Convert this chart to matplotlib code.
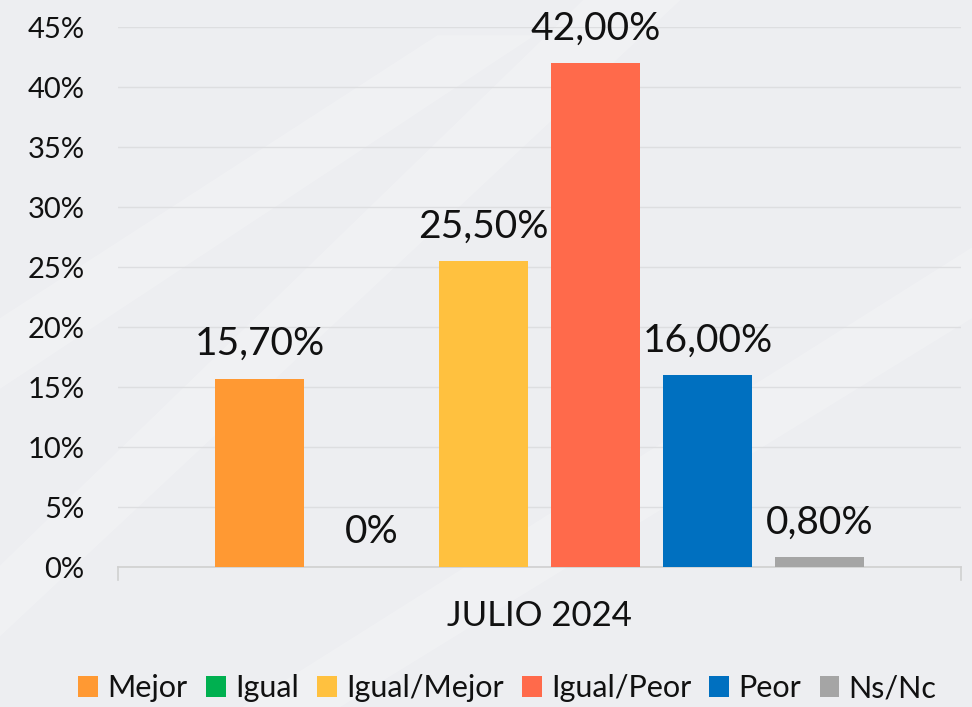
import matplotlib
matplotlib.use("Agg")
import matplotlib.pyplot as plt
from matplotlib.patches import Polygon
import numpy as np

categories = ["JULIO 2024"]
series = ["Mejor", "Igual", "Igual/Mejor", "Igual/Peor", "Peor", "Ns/Nc"]
values = [15.7, 0.0, 25.5, 42.0, 16.0, 0.8]
labels = ["15,70%", "0%", "25,50%", "42,00%", "16,00%", "0,80%"]
colors = ["#FF9933", "#00B050", "#FFC13F", "#FF6A4B", "#0070C0", "#A5A5A5"]
yticks = [0, 5, 10, 15, 20, 25, 30, 35, 40, 45]
ytick_labels = [f"{t}%" for t in yticks]

plt.rcParams['font.family'] = ['Lato', 'DejaVu Sans']

fig = plt.figure(figsize=(9.72, 7.07), dpi=100)
fig.patch.set_facecolor("#EDEEF1")

# subtle diagonal background bands
bands = [
    [(0, 0.55), (0.45, 0.95), (0.55, 0.95), (0, 0.45)],
    [(0.35, 0.0), (1.0, 0.55), (1.0, 0.65), (0.25, 0.0)],
    [(0.0, 0.2), (0.6, 1.0), (0.7, 1.0), (0.0, 0.1)],
]
for b in bands:
    fig.patches.append(Polygon(b, closed=True, transform=fig.transFigure,
                               facecolor="white", alpha=0.2, edgecolor="none", zorder=-10))

ax = fig.add_axes([118/972, 140/707, (961-118)/972, (567-27)/707])
ax.set_facecolor("none")
ax.set_zorder(5)

step = 112/843
width = 89/843
x0 = np.arange(len(categories))
for i, (s, v, c, lab) in enumerate(zip(series, values, colors, labels)):
    x = x0 + (i - 2.5) * step
    ax.bar(x, [v], width=width, color=c, label=s, zorder=3)
    ax.annotate(lab, (x[0], v), xytext=(0, 17), textcoords="offset points",
                ha="center", va="baseline", fontsize=28, color="#111111")

ax.set_xlim(-0.5, 0.5)
ax.set_ylim(0, 45)
ax.set_yticks(yticks)
ax.set_yticklabels(ytick_labels, fontsize=21, color="#111111")
ax.set_xticks(x0)
ax.set_xticklabels(categories, fontsize=25, color="#111111")
ax.tick_params(axis="y", length=0, pad=24)
ax.tick_params(axis="x", length=0, pad=24)
ax.yaxis.grid(True, color="#DDDEE0", linewidth=1, zorder=0)
for sp in ["top", "right", "left"]:
    ax.spines[sp].set_visible(False)
ax.spines["bottom"].set_color("#D0D0D0")
ax.spines["bottom"].set_linewidth(1.2)
for xe in (-0.5, 0.5):
    ax.plot([xe, xe], [0, -1.1], color="#D0D0D0", lw=1.2, clip_on=False)

leg = fig.legend(loc="lower center", bbox_to_anchor=(0.522, -0.032), ncol=6, frameon=False,
                 fontsize=22, handlelength=0.65, handleheight=0.65, handletextpad=0.3,
                 columnspacing=0.6)
for t in leg.get_texts():
    t.set_color("#111111")

fig.savefig("out.png", dpi=100, facecolor=fig.get_facecolor())
